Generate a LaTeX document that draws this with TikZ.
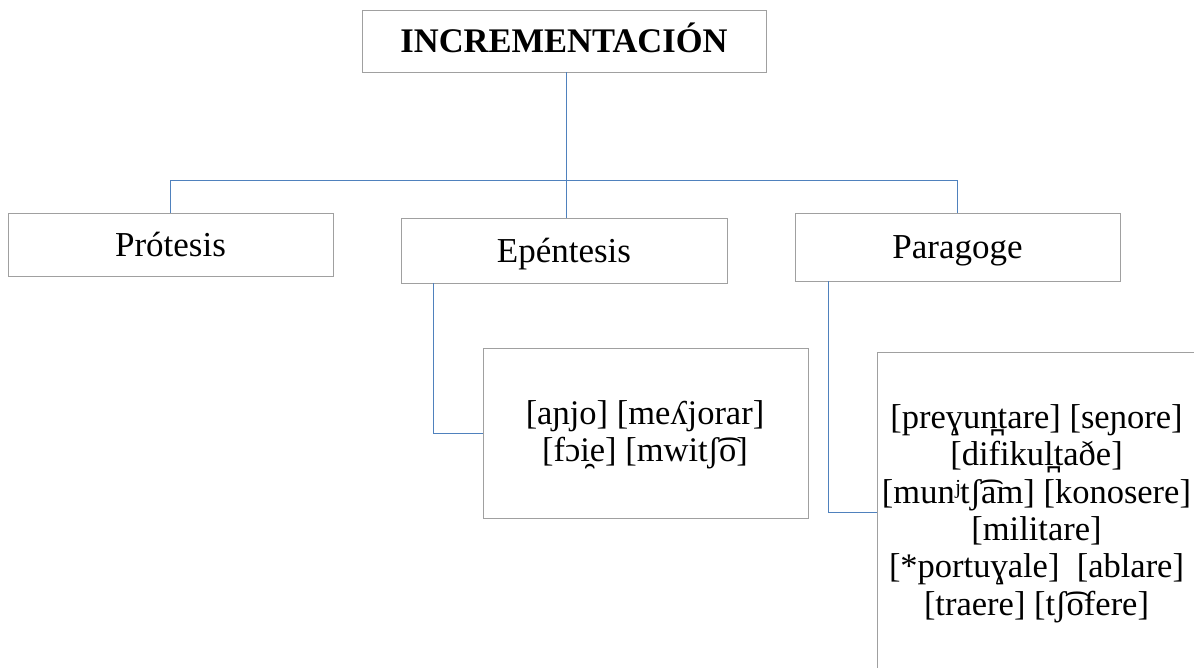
\documentclass[tikz,border=0pt]{standalone}
\usepackage{fontspec}
\setmainfont{Liberation Serif}
\begin{document}
\begin{tikzpicture}[x=1pt,y=-1pt,
  box/.style={draw=boxgray, line width=0.8pt, inner sep=0pt, align=center,
    text height=23pt, text depth=0pt, font=\fontsize{35}{37.5}\selectfont},
  plainbox/.style={draw=boxgray, line width=0.8pt, inner sep=0pt},
  link/.style={draw=linkblue, line width=1pt},
  extext/.style={inner sep=0pt, align=center, font=\fontsize{34.5}{37.4}\selectfont}]
\definecolor{boxgray}{RGB}{160,160,160}
\definecolor{linkblue}{RGB}{79,129,189}
\useasboundingbox (0,0) rectangle (1194,667);
\clip (0,0) rectangle (1194,667);
\fill[white] (0,0) rectangle (1194,667);

% main heading and the three branches
\node[box, minimum width=404pt, minimum height=62pt, font=\bfseries\fontsize{34.5}{37}\selectfont]
  (root) at (564,41) {INCREMENTACIÓN};
\node[box, minimum width=325pt, minimum height=63pt] (prot) at (170.5,244.5) {Prótesis};
\node[box, minimum width=326pt, minimum height=65pt] (epen) at (564,250.5) {Epéntesis};
\node[box, minimum width=325pt, minimum height=68pt] (para) at (957.5,247) {Paragoge};

% example boxes
\node[plainbox, minimum width=325pt, minimum height=170pt] (epex) at (645.5,433) {};
\node[extext] (epextxt) at (645,434.5) {[aɲjo] [meʎjorar]\\{}[fɔi̯e] [mwitʃ͡o]};
\node[plainbox, minimum width=360pt, minimum height=320pt, anchor=north west] (parex) at (877,352) {};
\node[extext] (parextxt) at (1036.5,513.5)
  {[preɣun̪tare] [seɲore]\\{}[difikul̪taðe]\\{}[munʲtʃ͡am] [konosere]\\{}[militare]\\{}[*portuɣale]~~[ablare]\\{}[traere] [tʃ͡ofere]};

% tree connectors
\coordinate (bus) at (566,180);
\draw[link] (root.south -| bus) -- (bus);
\draw[link] (bus) -| (prot.north);
\draw[link] (bus) -- (epen.north -| bus);
\draw[link] (bus) -| (para.north);

% example connectors
\coordinate (epstem) at (433,0);
\coordinate (pastem) at (828,0);
\draw[link] (epen.south -| epstem) |- (epex.west);
\draw[link] (para.south -| pastem) |- (parex.west);
\end{tikzpicture}
\end{document}
